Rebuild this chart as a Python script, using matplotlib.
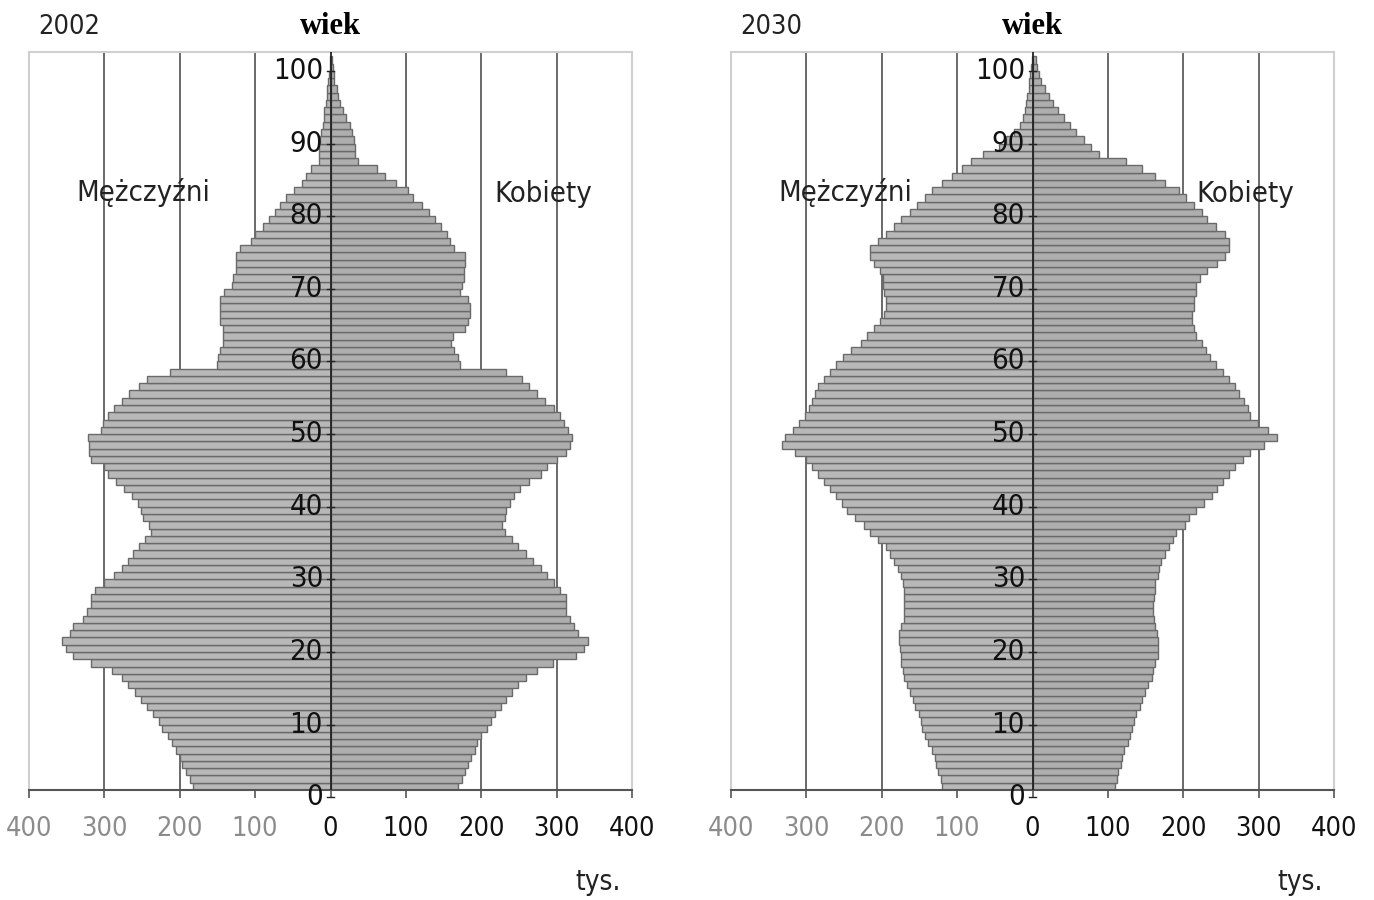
import numpy as np
import matplotlib.pyplot as plt

# wiek 0..100, liczby w tys.
ages = np.arange(101)

men_2002 = [182, 187, 192, 197, 200, 205, 210, 215, 223, 228,
            236, 244, 251, 259, 268, 277, 290, 318, 341, 351,
            356, 346, 341, 328, 323, 318, 318, 313, 300, 287,
            277, 269, 262, 254, 246, 238, 241, 249, 251, 256,
            264, 274, 285, 295, 300, 318, 320, 320, 322, 305,
            302, 295, 287, 277, 267, 254, 244, 213, 151, 149,
            146, 142, 142, 142, 146, 146, 146, 146, 141, 131,
            130, 126, 126, 126, 120, 105, 100, 90, 82, 74,
            67, 59, 49, 38, 33, 26, 15, 15, 15, 14,
            13, 10, 9, 8, 6, 5, 4, 3, 2, 1, 1]
women_2002 = [169, 174, 179, 182, 187, 192, 195, 200, 208, 213,
              218, 226, 233, 241, 249, 259, 274, 295, 326, 336,
              341, 328, 323, 318, 313, 313, 313, 305, 297, 287,
              279, 269, 259, 249, 241, 231, 228, 231, 233, 238,
              244, 251, 264, 279, 287, 300, 313, 318, 321, 315,
              310, 305, 297, 285, 274, 264, 254, 233, 172, 169,
              164, 160, 162, 179, 182, 185, 185, 182, 172, 174,
              177, 177, 179, 179, 164, 159, 154, 146, 138, 131,
              121, 110, 103, 87, 72, 62, 36, 33, 32, 31,
              28, 26, 21, 17, 13, 10, 8, 5, 4, 3, 2]
men_2030 = [120, 122, 125, 128, 130, 133, 138, 143, 146, 148,
            151, 156, 159, 163, 166, 170, 172, 174, 175, 176,
            177, 177, 175, 171, 170, 171, 171, 171, 172, 175,
            179, 184, 189, 194, 205, 215, 223, 235, 246, 253,
            261, 269, 277, 284, 292, 300, 315, 333, 328, 318,
            310, 302, 297, 292, 289, 284, 277, 269, 261, 251,
            241, 228, 220, 210, 202, 197, 194, 194, 197, 199,
            199, 202, 210, 215, 215, 205, 194, 184, 174, 163,
            153, 143, 133, 120, 107, 94, 81, 66, 45, 35,
            25, 17, 13, 10, 8, 7, 5, 4, 3, 2, 1]
women_2030 = [109, 112, 114, 117, 119, 122, 127, 130, 132, 135,
              137, 142, 145, 149, 153, 158, 160, 163, 166, 167,
              166, 165, 163, 161, 160, 160, 161, 162, 163, 166,
              168, 171, 176, 181, 186, 191, 202, 207, 217, 227,
              238, 245, 253, 261, 268, 279, 289, 307, 324, 312,
              299, 289, 286, 281, 274, 268, 261, 253, 243, 235,
              230, 225, 217, 214, 212, 212, 214, 214, 217, 217,
              222, 232, 245, 256, 261, 261, 255, 243, 232, 225,
              214, 204, 194, 176, 163, 145, 124, 88, 78, 68,
              58, 50, 42, 34, 27, 22, 16, 11, 9, 6, 4]

xticks = [-400, -300, -200, -100, 0, 100, 200, 300, 400]
xticklabels = ["400", "300", "200", "100", "0", "100", "200", "300", "400"]
age_ticks = [0, 10, 20, 30, 40, 50, 60, 70, 80, 90, 100]

panels = [("2002", men_2002, women_2002), ("2030", men_2030, women_2030)]

FONT = ["DejaVu Sans"]
STRETCH = "condensed"

fig = plt.figure(figsize=(13.74, 9), dpi=100)
W, H = 1374, 900
lefts = [29, 731]

for (year, men, women), lx in zip(panels, lefts):
    ax = fig.add_axes([lx / W, 110 / H, 603 / W, 738 / H])
    men = np.array(men)
    women = np.array(women)

    # siatka
    for t in [-300, -200, -100, 100, 200, 300]:
        ax.axvline(t, color="#5e5e5e", lw=1.3, zorder=0)

    ax.barh(ages, -men, height=1, align="edge", color="#b8b8b8",
            edgecolor="#6a6a6a", linewidth=1.0, zorder=2)
    ax.barh(ages, women, height=1, align="edge", color="#aeaeae",
            edgecolor="#6a6a6a", linewidth=1.0, zorder=2)

    ax.axvline(0, color="#222222", lw=1.3, zorder=3)

    ax.set_xlim(-400, 400)
    ax.set_ylim(0, 101.6)
    ax.set_yticks([])
    ax.set_xticks(xticks)
    ax.set_xticklabels(xticklabels, fontsize=19.5, family=FONT, stretch=STRETCH)
    for lab, t in zip(ax.get_xticklabels(), xticks):
        lab.set_color("#8c8c8c" if t < 0 else "#111111")
    ax.tick_params(axis="x", length=6, width=1.2, color="#555555", pad=13)

    for s in ["top", "left", "right"]:
        ax.spines[s].set_color("#cfcfcf")
        ax.spines[s].set_linewidth(1.5)
    ax.spines["bottom"].set_color("#555555")
    ax.spines["bottom"].set_linewidth(1.5)

    # etykiety wieku na osi środkowej
    for a in age_ticks:
        ax.text(-10, a - 1.0, str(a), ha="right", va="center", fontsize=21,
                family=FONT, stretch=STRETCH, color="#111111", zorder=4,
                clip_on=False)
        ax.plot([-4, 4], [a - 1.0, a - 1.0], color="#222222", lw=1.0, zorder=4,
                clip_on=False)

    ax.text(0, 1.034, "wiek", transform=ax.get_xaxis_transform(), ha="center",
            va="center", fontsize=22, fontweight="bold",
            family=["Liberation Serif", "DejaVu Serif"])
    ax.text(-400 + 12, 1.034, year, transform=ax.get_xaxis_transform(),
            ha="left", va="center", fontsize=19.5, family=FONT, stretch=STRETCH,
            color="#222222")
    ax.text(-248, 82.2, "Mężczyźni", ha="center", va="center", fontsize=21,
            family=FONT, stretch=STRETCH, color="#222222")
    ax.text(282, 82.0, "Kobiety", ha="center", va="center", fontsize=21,
            family=FONT, stretch=STRETCH, color="#222222")
    ax.text(355, -0.125, "tys.", transform=ax.get_xaxis_transform(),
            ha="center", va="center", fontsize=20, family=FONT, stretch=STRETCH,
            color="#222222")

fig.savefig("out.png", dpi=100)
